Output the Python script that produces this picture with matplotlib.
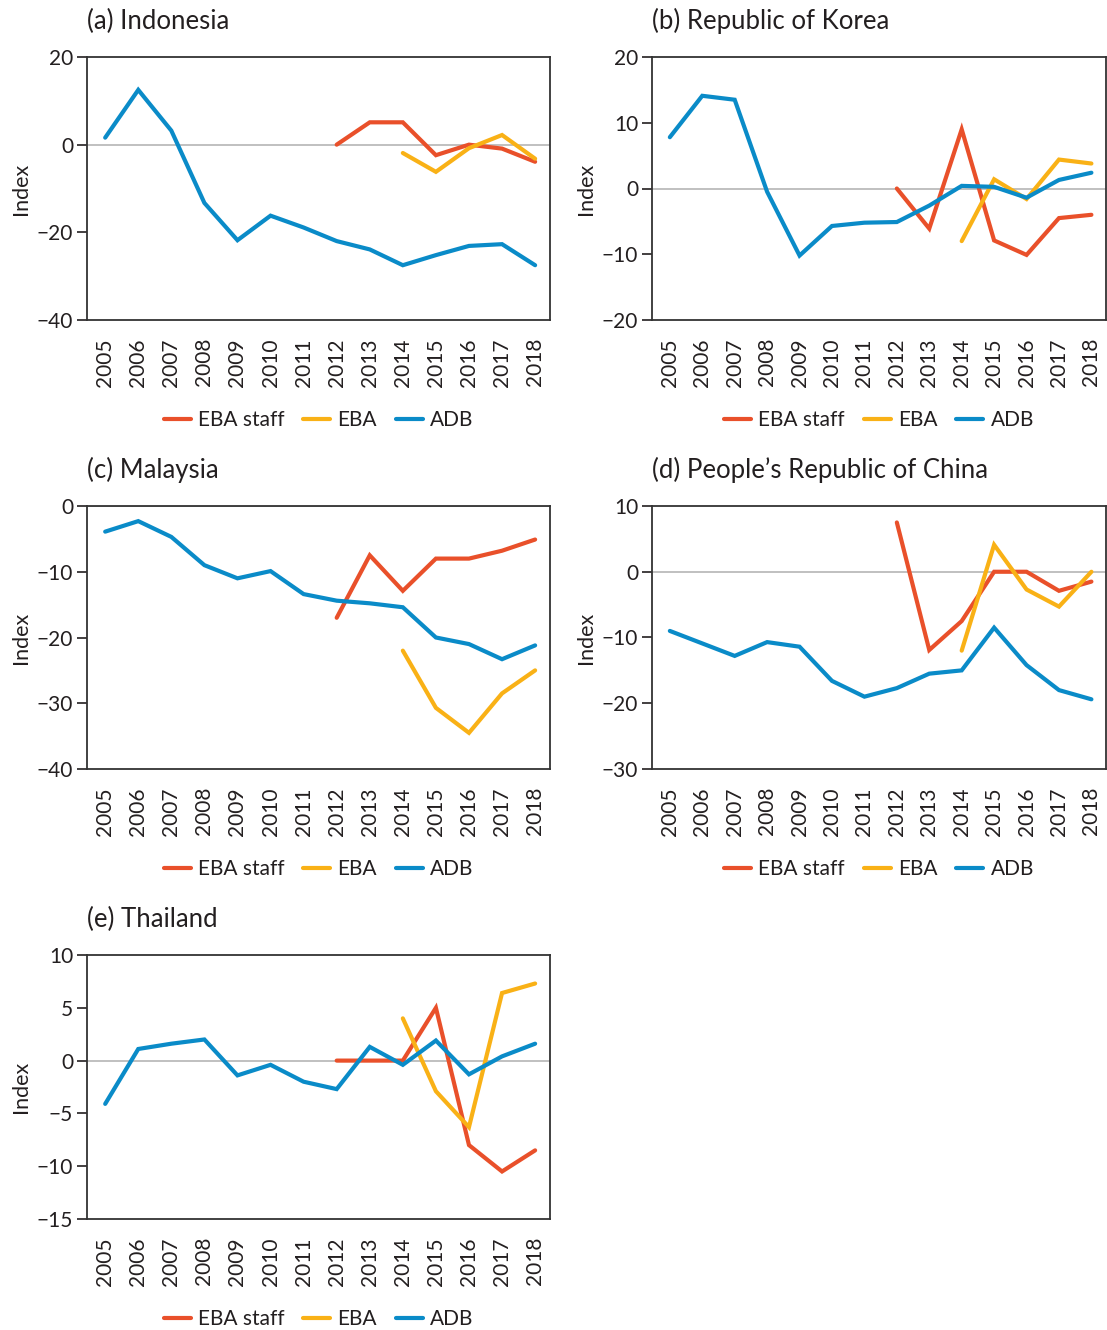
import matplotlib
matplotlib.use("Agg")
import matplotlib.pyplot as plt
import numpy as np

plt.rcParams['font.family'] = ['Lato', 'DejaVu Sans']

years = list(range(2005, 2019))
years_staff = list(range(2012, 2019))
years_eba = list(range(2014, 2019))

titles = ["(a) Indonesia", "(b) Republic of Korea", "(c) Malaysia",
          "(d) People\u2019s Republic of China", "(e) Thailand"]

adb_indonesia = [1.6, 12.5, 3.2, -13.3, -21.8, -16.2, -18.9, -22.0, -23.9, -27.5, -25.2, -23.1, -22.7, -27.5]
staff_indonesia = [0, 5.1, 5.1, -2.4, 0, -0.9, -3.9]
eba_indonesia = [-1.9, -6.2, -0.8, 2.2, -3.2]

adb_korea = [7.8, 14.1, 13.5, -0.5, -10.2, -5.7, -5.2, -5.1, -2.6, 0.4, 0.25, -1.4, 1.3, 2.4]
staff_korea = [0, -6.1, 9.0, -7.9, -10.1, -4.5, -4.0]
eba_korea = [-8.0, 1.4, -1.6, 4.4, 3.8]

adb_malaysia = [-3.9, -2.3, -4.7, -9.0, -11.0, -9.9, -13.4, -14.4, -14.8, -15.4, -20.0, -21.0, -23.3, -21.2]
staff_malaysia = [-17.0, -7.5, -12.9, -8.0, -8.0, -6.8, -5.1]
eba_malaysia = [-22.0, -30.7, -34.5, -28.5, -25.0]

adb_prc = [-9.0, -10.9, -12.8, -10.7, -11.4, -16.6, -19.0, -17.7, -15.5, -15.0, -8.5, -14.2, -18.0, -19.4]
staff_prc = [7.5, -11.9, -7.5, 0, 0, -2.9, -1.5]
eba_prc = [-12.0, 4.1, -2.7, -5.3, 0]

adb_thailand = [-4.1, 1.1, 1.6, 2.0, -1.4, -0.4, -2.0, -2.7, 1.3, -0.4, 1.9, -1.3, 0.4, 1.6]
staff_thailand = [0, 0, 0, 5.0, -8.0, -10.5, -8.5]
eba_thailand = [4.0, -2.9, -6.3, 6.4, 7.3]

ylims = [(-40, 20), (-20, 20), (-40, 0), (-30, 10), (-15, 10)]
yticks = [[-40, -20, 0, 20], [-20, -10, 0, 10, 20], [-40, -30, -20, -10, 0],
          [-30, -20, -10, 0, 10], [-15, -10, -5, 0, 5, 10]]

data = [
    (staff_indonesia, eba_indonesia, adb_indonesia),
    (staff_korea, eba_korea, adb_korea),
    (staff_malaysia, eba_malaysia, adb_malaysia),
    (staff_prc, eba_prc, adb_prc),
    (staff_thailand, eba_thailand, adb_thailand),
]

c_staff = '#E9502A'
c_eba = '#F9B116'
c_adb = '#0A8BC8'
txt_c = '#231F20'

W, H = 1107, 1330
fig = plt.figure(figsize=(W / 100, H / 100), dpi=100)

boxes = [
    (87, 550, 57, 320),
    (652, 1106, 57, 320),
    (87, 550, 506, 769),
    (652, 1106, 506, 769),
    (87, 550, 955, 1219),
]

for i, (box, d) in enumerate(zip(boxes, data)):
    l, r, t, b = box
    ax = fig.add_axes([l / W, 1 - b / H, (r - l) / W, (b - t) / H])
    staff, eba, adb = d
    ax.axhline(0, color='#b5b5b5', lw=1.2, zorder=1)
    ax.plot(years_staff, staff, color=c_staff, lw=3, label='EBA staff', zorder=3,
            solid_capstyle='round', solid_joinstyle='miter')
    ax.plot(years_eba, eba, color=c_eba, lw=3, label='EBA', zorder=3,
            solid_capstyle='round', solid_joinstyle='miter')
    ax.plot(years, adb, color=c_adb, lw=3, label='ADB', zorder=4,
            solid_capstyle='round', solid_joinstyle='miter')
    ax.set_xlim(2004.45, 2018.45)
    ax.set_ylim(*ylims[i])
    ax.set_yticks(yticks[i])
    ax.set_yticklabels([str(v).replace('-', '\u2212') for v in yticks[i]])
    ax.set_xticks(years)
    ax.set_xticklabels([str(y) for y in years], rotation=90)
    ax.tick_params(axis='x', length=0, pad=13, labelsize=15, colors=txt_c)
    ax.tick_params(axis='y', length=7, width=1.2, direction='out', pad=3,
                   labelsize=15, colors=txt_c)
    for s in ax.spines.values():
        s.set_color('#333333')
        s.set_linewidth(1.3)
    ax.set_ylabel('Index', fontsize=15.5, color=txt_c, labelpad=4)
    ax.annotate(titles[i], xy=(0, 1), xycoords='axes fraction',
                xytext=(0, 20), textcoords='offset points',
                fontsize=18.5, color=txt_c, ha='left', va='baseline')
    leg = ax.legend(loc='center', bbox_to_anchor=(0.5, -0.38), ncol=3,
                    frameon=False, fontsize=15, handlelength=1.3,
                    handletextpad=0.35, columnspacing=0.9, borderpad=0)
    for line in leg.get_lines():
        line.set_linewidth(3)
    for t_ in leg.get_texts():
        t_.set_color(txt_c)

fig.savefig('out.png', dpi=100)
